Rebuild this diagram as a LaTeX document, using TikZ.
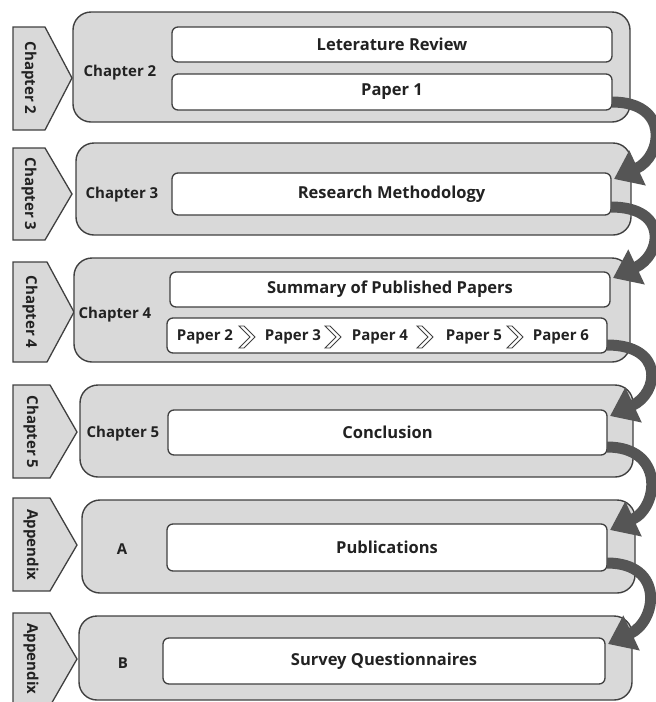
\documentclass[tikz,border=0pt]{standalone}
\usepackage{fontspec}
\setmainfont{Open Sans}
\usetikzlibrary{arrows.meta}
\definecolor{boxgray}{HTML}{D9D9D9}
\definecolor{boxline}{HTML}{404040}
\definecolor{flowgray}{HTML}{555555}
\definecolor{inkgray}{HTML}{222222}

\begin{document}
\begin{tikzpicture}[x=1pt, y=-1pt]
  \tikzstyle{chapbox}=[rectangle, rounded corners=18pt, draw=boxline, fill=boxgray, line width=1.4pt, inner sep=0pt, outer sep=0pt]
  \tikzstyle{topic}=[rectangle, rounded corners=6pt, draw=boxline, fill=white, line width=1.3pt, inner sep=0pt, outer sep=0pt, text=inkgray, font=\bfseries\fontsize{16.5}{18}\selectfont]
  \tikzstyle{chaplabel}=[text=inkgray, font=\bfseries\fontsize{15}{17}\selectfont]
  \tikzstyle{tabshape}=[draw=boxline, fill=boxgray, line width=1.3pt, line join=miter]
  \tikzstyle{tabtext}=[rotate=-90, text=inkgray, font=\bfseries\fontsize{15}{17}\selectfont]
  \tikzstyle{papertext}=[text=inkgray, inner sep=0pt, font=\bfseries\fontsize{15}{17}\selectfont]
  \tikzstyle{chev}=[draw=boxline, fill=white, line width=0.9pt, line join=miter]
  \tikzstyle{flow}=[draw=flowgray, line width=11pt, -{Triangle[length=26pt, width=37pt]}]

  \clip (0,0) rectangle (656,702);

  % Chapter 2
  \draw[tabshape] (13,27) -- (45,27) -- (72,78) -- (45,130) -- (13,130) -- cycle;
  \node[tabtext] (tab2) at (29,78) {Chapter 2};
  \node[chapbox, minimum width=557pt, minimum height=110pt] (ch2) at (351.5,67) {};
  \node[chaplabel] (lab2) at (120,73) {Chapter 2};
  \node[topic, minimum width=440pt, minimum height=35pt] (review) at (392,44.5) {Leterature Review};
  \node[topic, minimum width=440pt, minimum height=36pt] (paper1) at (392,92) {Paper 1};

  % Chapter 3
  \draw[tabshape] (13,148) -- (45,148) -- (72,194) -- (45,240) -- (13,240) -- cycle;
  \node[tabtext] (tab3) at (29,194) {Chapter 3};
  \node[chapbox, minimum width=555pt, minimum height=92pt] (ch3) at (353.5,189) {};
  \node[chaplabel] (lab3) at (122,195) {Chapter 3};
  \node[topic, minimum width=439pt, minimum height=42pt] (method) at (391.5,194) {Research Methodology};

  % Chapter 4
  \draw[tabshape] (13,262) -- (47,262) -- (74,312) -- (47,362) -- (13,362) -- cycle;
  \node[tabtext] (tab4) at (30,312) {Chapter 4};
  \node[chapbox, minimum width=556pt, minimum height=104pt] (ch4) at (352,310) {};
  \node[chaplabel] (lab4) at (115,315) {Chapter 4};
  \node[topic, minimum width=440pt, minimum height=35pt] (summary) at (390,289.5) {Summary of Published Papers};
  \node[topic, minimum width=440pt, minimum height=35pt] (papers) at (387,335.5) {};
  \node[papertext] (p2) at (205,337) {Paper 2};
  \node[papertext] (p3) at (293,337) {Paper 3};
  \node[papertext] (p4) at (380,337) {Paper 4};
  \node[papertext] (p5) at (474,337) {Paper 5};
  \node[papertext] (p6) at (561,337) {Paper 6};
  \foreach \cx in {247,333,425,515}
    \draw[chev, shift={(\cx,337)}] (-8,-11) -- (-3,-11) -- (8,0) -- (-3,11) -- (-8,11) -- (3,0) -- cycle;

  % Chapter 5
  \draw[tabshape] (13,385) -- (50,385) -- (77,432) -- (50,478) -- (13,478) -- cycle;
  \node[tabtext] (tab5) at (31,432) {Chapter 5};
  \node[chapbox, minimum width=553pt, minimum height=92pt] (ch5) at (356.5,431) {};
  \node[chaplabel] (lab5) at (123,434) {Chapter 5};
  \node[topic, minimum width=439pt, minimum height=45pt] (conclusion) at (387.5,432.5) {Conclusion};

  % Appendix A
  \draw[tabshape] (13,498) -- (50,498) -- (77,545) -- (50,591) -- (13,591) -- cycle;
  \node[tabtext] (tabA) at (31,545) {Appendix};
  \node[chapbox, minimum width=553pt, minimum height=93pt] (appA) at (358.5,546.5) {};
  \node[chaplabel] (labA) at (122,549) {A};
  \node[topic, minimum width=440pt, minimum height=47pt] (publications) at (387,547.5) {Publications};

  % Appendix B
  \draw[tabshape] (13,613) -- (50,613) -- (77,659) -- (50,706) -- (13,706) -- cycle;
  \node[tabtext] (tabB) at (31,659) {Appendix};
  \node[chapbox, minimum width=553pt, minimum height=84pt] (appB) at (355.5,658) {};
  \node[chaplabel] (labB) at (123,663) {B};
  \node[topic, minimum width=442pt, minimum height=46pt] (survey) at (384,661) {Survey Questionnaires};

  % flow between chapters
  \draw[flow] ([yshift=8pt]paper1.south east) .. controls +(58,0) and +(49,-23) .. ([xshift=3pt, yshift=-6pt]method.north east);
  \draw[flow] ([yshift=8pt]method.south east) .. controls +(58,0) and +(49,-23) .. ([xshift=3pt, yshift=-6pt]summary.north east);
  \draw[flow] ([yshift=8pt]papers.south east) .. controls +(58,0) and +(49,-23) .. ([xshift=3pt, yshift=-6pt]conclusion.north east);
  \draw[flow] ([yshift=8pt]conclusion.south east) .. controls +(58,0) and +(49,-23) .. ([xshift=3pt, yshift=-6pt]publications.north east);
  \draw[flow] ([yshift=8pt]publications.south east) .. controls +(58,0) and +(49,-23) .. ([xshift=3pt, yshift=-6pt]survey.north east);
\end{tikzpicture}
\end{document}
